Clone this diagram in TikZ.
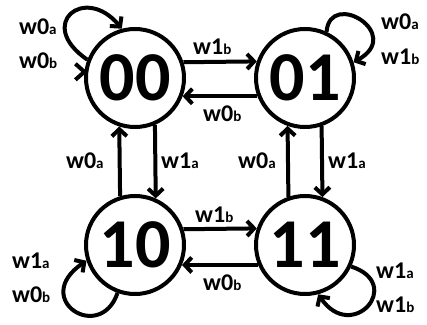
\documentclass[tikz,border=0pt]{standalone}
\usepackage{fontspec}
\setmainfont{Carlito}
\usetikzlibrary{arrows.meta,calc}
% small letter set on the baseline after a transition name
\newcommand\subl[1]{{\fontsize{15}{15}\selectfont #1}}
\begin{document}
\begin{tikzpicture}[x=1pt,y=1pt,
  state/.style={circle,draw,line width=4pt,minimum size=98pt,inner sep=0pt,
    font=\fontsize{70}{70}\selectfont\bfseries},
  trans/.style={line width=4pt,-{Straight Barb[length=7pt,width=15pt]}},
  chev/.style={line width=4pt},
  lbl/.style={inner sep=0pt,anchor=base west,font=\fontsize{24}{24}\selectfont\bfseries}]
\useasboundingbox (0,0) rectangle (427,324);

% states
\node[state] (s00) at (135,246) {00};
\node[state] (s01) at (305,246) {01};
\node[state] (s10) at (135,79) {10};
\node[state] (s11) at (305,79) {11};

% horizontal transitions
\draw[trans] (s00.18.3) -- (s01.161.7);
\draw[trans] (s01.201.9) -- (s00.-21.9);
\draw[trans] (s10.18.3) -- (s11.161.7);
\draw[trans] (s11.203.1) -- (s10.-23.1);

% vertical transitions
\draw[trans] (s10.107.1) -- (s00.252.9);
\draw[trans] (s00.293.1) -- (s10.66.9);
\draw[trans] (s11.109.5) -- (s01.250.5);
\draw[trans] (s01.289.5) -- (s11.70.5);

% self loops
\draw[trans] (s00.159) .. controls (35,300) and (85,340) .. (s00.105);
\draw[chev] ($(s00.173)+(-9,8)$) -- (s00.173) -- ($(s00.173)+(-9,-8)$);
\draw[trans] (s01.65) .. controls (330,335) and (405,290) .. (s01.18);
\draw[trans] (s10.250) .. controls (100,-20) and (30,25) .. (s10.198);
\draw[trans] (s11.335) .. controls (405,40) and (352,-20) .. (s11.285);

% loop labels
\node[lbl] (l00a) at (19,289) {w0\subl{a}};
\node[lbl] (l00b) at (19,255) {w0\subl{b}};
\node[lbl] (l01a) at (381,294) {w0\subl{a}};
\node[lbl] (l01b) at (381,259) {w1\subl{b}};
\node[lbl] (l10a) at (12,56) {w1\subl{a}};
\node[lbl] (l10b) at (12,22) {w0\subl{b}};
\node[lbl] (l11a) at (376,46) {w1\subl{a}};
\node[lbl] (l11b) at (376,12) {w1\subl{b}};

% edge labels
\node[lbl] (t1) at (193,269) {w1\subl{b}};
\node[lbl] (t2) at (203,202) {w0\subl{b}};
\node[lbl] (t3) at (195,102) {w1\subl{b}};
\node[lbl] (t4) at (203,34) {w0\subl{b}};
\node[lbl] (t5) at (66,156) {w0\subl{a}};
\node[lbl] (t6) at (161,156) {w1\subl{a}};
\node[lbl] (t7) at (238,156) {w0\subl{a}};
\node[lbl] (t8) at (328,156) {w1\subl{a}};
\end{tikzpicture}
\end{document}
